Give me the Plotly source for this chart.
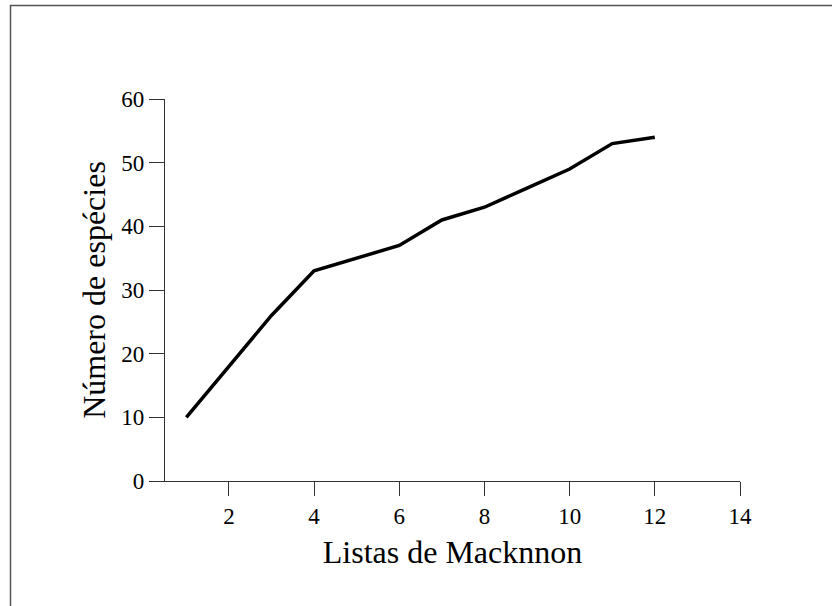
import plotly.graph_objects as go

listas = [1, 2, 3, 4, 5, 6, 7, 8, 9, 10, 11, 12]
especies = [10, 18, 26, 33, 35, 37, 41, 43, 46, 49, 53, 54]
x_ticks = [2, 4, 6, 8, 10, 12, 14]
y_ticks = [0, 10, 20, 30, 40, 50, 60]

W, H = 832, 606
L, R, T, B = 165, 92, 99, 125

fig = go.Figure()
fig.add_trace(go.Scatter(x=listas, y=especies, mode="lines",
                         line=dict(color="black", width=3.5), showlegend=False))

family = "Liberation Serif, Times New Roman, serif"

fig.update_layout(
    width=W, height=H,
    margin=dict(l=L, r=R, t=T, b=B),
    paper_bgcolor="white", plot_bgcolor="white",
    font=dict(family=family, size=23, color="black"),
    xaxis=dict(range=[0.5, 14], tickvals=x_ticks, ticks="outside", ticklen=14,
               tickcolor="#333", tickwidth=1.2, showline=True, linecolor="#333",
               linewidth=1.2, showgrid=False, zeroline=False,
               tickfont=dict(size=23),
               title=dict(text="Listas de Macknnon", font=dict(size=32), standoff=12)),
    yaxis=dict(range=[0, 60], tickvals=y_ticks, ticks="outside", ticklen=15,
               tickcolor="#333", tickwidth=1.2, showline=True, linecolor="#333",
               linewidth=1.2, showgrid=False, zeroline=False,
               tickfont=dict(size=23),
               title=dict(text="Número de espécies", font=dict(size=32), standoff=6)),
)

# outer frame (extends past right/bottom edges like the reference)
pw = W - L - R
ph = H - T - B
def px2paper_x(px):
    return (px - L) / pw
def px2paper_y(py):
    return (H - B - py) / ph
fig.add_shape(type="rect", xref="paper", yref="paper",
              x0=px2paper_x(10.5), x1=px2paper_x(900),
              y0=px2paper_y(700), y1=px2paper_y(5.5),
              line=dict(color="#555", width=1.5), fillcolor="rgba(0,0,0,0)", layer="below")

fig.write_html("out.html", config={"displayModeBar": False},
               post_script="document.body.style.margin='0';")
